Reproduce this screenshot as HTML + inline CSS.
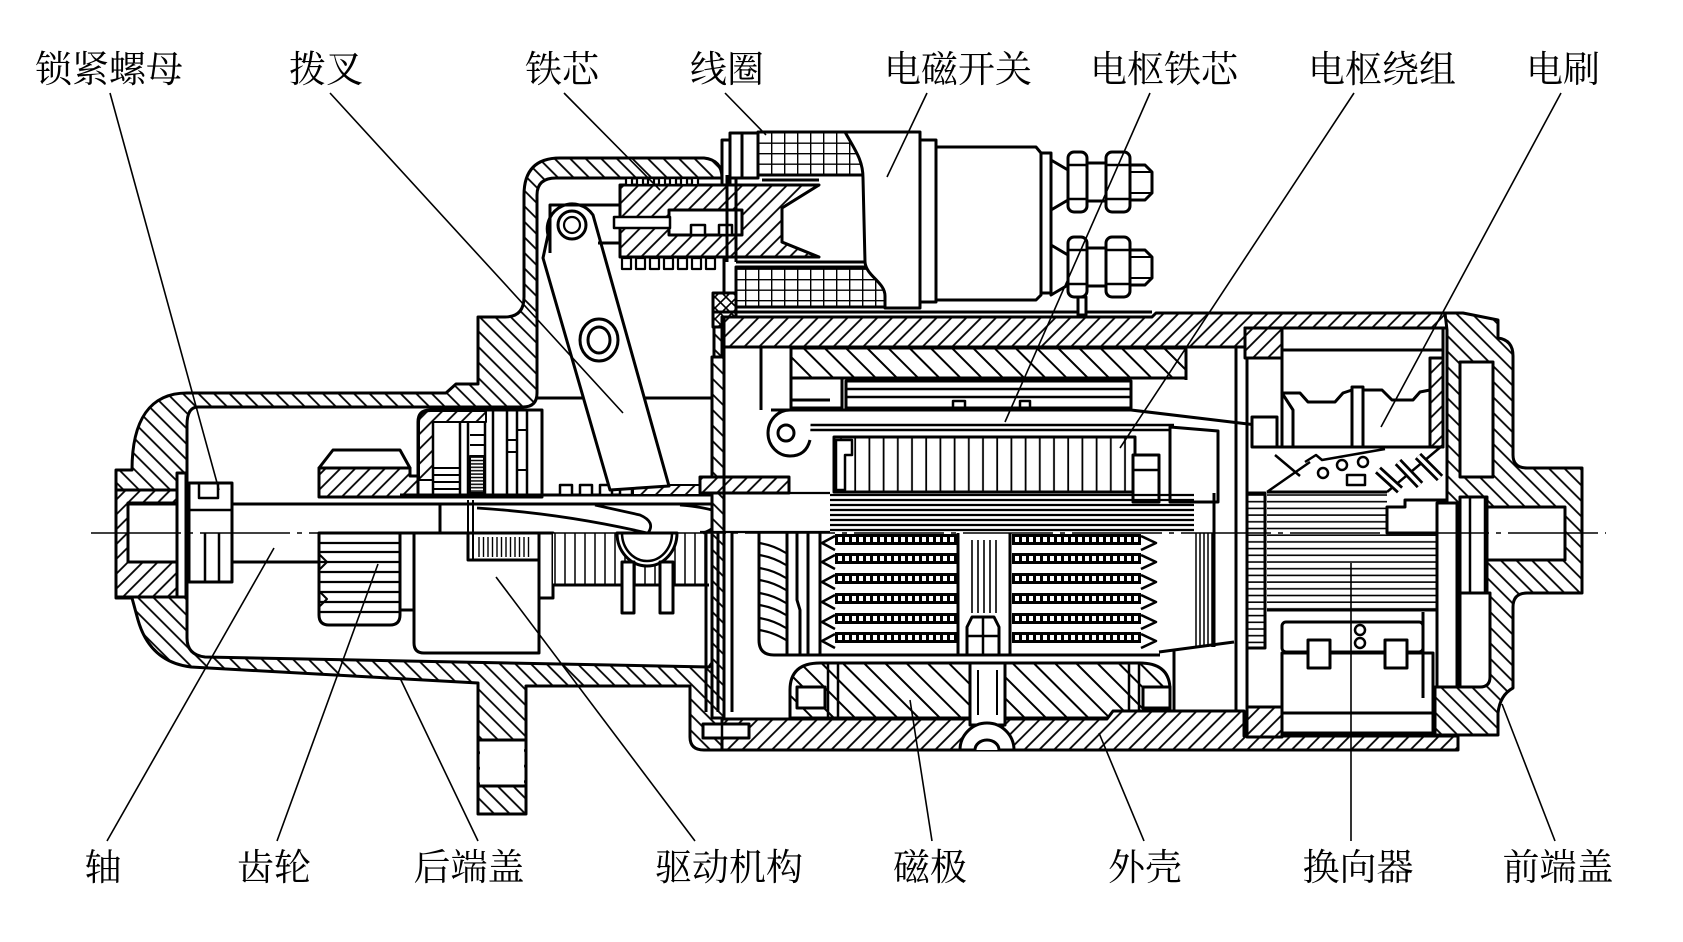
<!DOCTYPE html>
<html><head><meta charset="utf-8">
<style>
html,body{margin:0;padding:0;background:#fff;}
svg{display:block;}
text{font-family:"Liberation Serif","Noto Serif CJK SC","Noto Sans CJK SC",serif;font-size:37px;fill:#000;}
</style></head><body>
<svg width="1683" height="942" viewBox="0 0 1683 942" xmlns="http://www.w3.org/2000/svg">
<defs>
<pattern id="hA" patternUnits="userSpaceOnUse" width="10.5" height="10.5" patternTransform="rotate(45)"><rect width="10.5" height="10.5" fill="#fff"/><line x1="5" y1="-1" x2="5" y2="12" stroke="#000" stroke-width="1.8"/></pattern>
<pattern id="hB" patternUnits="userSpaceOnUse" width="11" height="11" patternTransform="rotate(-45)"><rect width="11" height="11" fill="#fff"/><line x1="5" y1="-1" x2="5" y2="12" stroke="#000" stroke-width="1.8"/></pattern>
<pattern id="hP" patternUnits="userSpaceOnUse" width="15" height="15" patternTransform="rotate(-45)"><rect width="15" height="15" fill="#fff"/><line x1="7" y1="-1" x2="7" y2="16" stroke="#000" stroke-width="2"/></pattern>
<pattern id="grid" patternUnits="userSpaceOnUse" x="758" y="132" width="13" height="10.5"><rect width="13" height="10.5" fill="#fff"/><path d="M0 0.5H13M0.5 0V10.5" stroke="#000" stroke-width="1.8" fill="none"/></pattern>
<pattern id="vl" patternUnits="userSpaceOnUse" width="10" height="10"><rect width="10" height="10" fill="#fff"/><line x1="5" y1="0" x2="5" y2="10" stroke="#000" stroke-width="1.5"/></pattern>
<pattern id="vA" patternUnits="userSpaceOnUse" x="834" width="14.2" height="10"><rect width="14.2" height="10" fill="#fff"/><line x1="7" y1="0" x2="7" y2="10" stroke="#000" stroke-width="1.8"/></pattern>
<pattern id="vs" patternUnits="userSpaceOnUse" width="4.5" height="10"><rect width="4.5" height="10" fill="#fff"/><line x1="2" y1="0" x2="2" y2="10" stroke="#000" stroke-width="1.4"/></pattern>
<pattern id="hl" patternUnits="userSpaceOnUse" width="10" height="6.7" y="492"><rect width="10" height="6.7" fill="#fff"/><line x1="0" y1="3" x2="10" y2="3" stroke="#000" stroke-width="1.6"/></pattern>
<pattern id="hd" patternUnits="userSpaceOnUse" width="10" height="3.4"><rect width="10" height="3.4" fill="#fff"/><line x1="0" y1="1.5" x2="10" y2="1.5" stroke="#000" stroke-width="1.5"/></pattern>
<pattern id="xh" patternUnits="userSpaceOnUse" width="11" height="11"><rect width="11" height="11" fill="#fff"/><path d="M0 0L11 11M11 0L0 11" stroke="#000" stroke-width="1.6"/></pattern>
</defs>

<g fill="none" stroke="#000" stroke-width="3" stroke-linejoin="round">

<!-- Rear end cap -->
<path fill="url(#hB)" d="M187,393 L446,393 L456,384 L478,384 L478,317 L505,317 Q524,317 524,297 L524,195 Q524,158 560,158 L704,158 Q722,160 722,178 L722,750 L704,750 Q690,750 690,737 L690,686 L526,686 L526,814 L478,814 L478,683 L191,667 Q150,662 138,620 L132,598 L116,598 L116,470 L132,470 C132,420 150,393 187,393 Z"/>
<path fill="#fff" d="M198,407 L523,407 Q537,407 537,393 L537,195 Q537,178 556,178 L724,178 L724,320 L714,320 L714,660 L709,667 L205,657 Q187,655 187,638 L187,425 Q187,407 198,407 Z"/>
<rect x="480" y="740" width="44" height="46" fill="#fff" stroke="none"/>
<path d="M478,740 H526 M478,786 H526"/>
<line x1="537" y1="398" x2="714" y2="398"/>

<!-- boss & nut -->
<rect x="116" y="490" width="61" height="107" fill="url(#hA)"/>
<rect x="128" y="503" width="49" height="59" fill="#fff"/>
<rect x="128" y="504" width="312" height="58" fill="#fff"/>
<rect x="177" y="473" width="9" height="124" fill="#fff"/>
<rect x="189" y="483" width="43" height="99" fill="#fff"/>
<path d="M199,483 V498 H218 V483 M189,510 H232 M205,533 V582 M219,533 V582" stroke-width="2.5"/>

<!-- pinion -->
<path fill="#fff" d="M319,468 L333,450 L400,450 L410,468 Z"/>
<path fill="url(#hA)" d="M319,468 L410,468 L410,476 L420,476 L432,462 L432,497 L319,497 Z"/>
<path fill="#fff" d="M319,533 L400,533 L400,615 Q400,625 390,625 L329,625 Q319,625 319,615 Z"/>
<path d="M319,543H400M319,552H400M319,562H400M319,572H400M319,582H400M319,592H400M319,602H400M319,612H400" stroke-width="2.2"/>
<path d="M320,555 L327,562 L320,569 M320,592 L327,599 L320,606" stroke-width="2"/>
<rect x="400" y="533" width="14" height="77" fill="#fff"/>
<path fill="#fff" d="M414,533 L539,533 L539,653 L424,653 Q414,653 414,643 Z"/>

<!-- drive upper (clutch) -->
<path fill="#fff" d="M418,497 L418,422 Q418,410 430,410 L542,410 L542,497 Z"/>
<path fill="url(#hA)" stroke-width="2" d="M419,480 L419,423 Q419,411 431,411 L486,411 L486,422 L433,422 L433,480 Z"/>
<rect x="470" y="456" width="14" height="37" fill="url(#hd)" stroke-width="2"/>
<path d="M433,422V497M460,422V497M468,422V497M485,422V497M493,411V497M507,411V497M517,411V497M527,411V497" stroke-width="2.5"/>
<path d="M433,468H460M433,475H460M433,482H460M433,489H460M470,435H485M470,445H485M507,440H517M507,452H517M517,430H527M517,470H527" stroke-width="2"/>

<!-- spline / sleeve -->
<rect x="468" y="533" width="71" height="27" fill="#fff"/>
<rect x="478" y="537" width="54" height="20" fill="url(#vs)" stroke="none"/>
<path d="M468,500 V560 M473,500 V560" stroke-width="2"/>
<rect x="539" y="533" width="14" height="65" fill="#fff"/>
<rect x="553" y="533" width="156" height="52" fill="url(#vl)" stroke="none"/>
<path d="M553,585 H709"/>
<path fill="#fff" d="M617,533 A30,33 0 0 0 677,533 Z"/>
<path d="M622,533 A25,28 0 0 0 672,533" stroke-width="2.5"/>
<rect x="622" y="562" width="12" height="51" fill="#fff"/>
<rect x="660" y="562" width="13" height="51" fill="#fff"/>
<path d="M400,495 H720 M432,504 H720"/>
<rect x="633" y="485" width="81" height="10" fill="url(#hA)" stroke-width="2"/>
<rect x="560" y="485" width="12" height="10" fill="#fff" stroke-width="2.5"/>
<rect x="580" y="485" width="12" height="10" fill="#fff" stroke-width="2.5"/>
<rect x="600" y="485" width="12" height="10" fill="#fff" stroke-width="2.5"/>
<rect x="620" y="485" width="12" height="10" fill="#fff" stroke-width="2.5"/>
<path d="M477,508 C540,512 600,522 647,533 M595,505 L640,515 Q656,522 648,533 M680,505 Q715,508 722,515 Q718,528 703,533" stroke-width="2.8"/>

<!-- shift fork lever -->
<path fill="#fff" d="M543,258 L610,490 L669,486 L593,215 A25,25 0 0 0 548,235 Z"/>
<circle cx="572" cy="225" r="14" fill="#fff"/>
<circle cx="572" cy="225" r="8" stroke-width="2.2"/>
<ellipse cx="599" cy="340" rx="19" ry="21" fill="#fff"/>
<ellipse cx="599" cy="340" rx="11" ry="13"/>
<path d="M550,253 V205 H620 M598,243 H620"/>

<!-- solenoid: plunger -->
<rect x="722" y="140" width="8" height="70" fill="#fff"/>
<rect x="758" y="132" width="110" height="43" fill="url(#grid)"/>
<rect x="736" y="267" width="150" height="40" fill="url(#grid)"/>
<rect x="713" y="293" width="23" height="34" fill="url(#xh)"/>
<path fill="url(#hA)" d="M620,185 L819,185 L782,208 L782,242 L819,257 L620,257 Z"/>
<path fill="#fff" d="M819,185 L782,208 L782,242 L819,257"/>
<rect x="669" y="210" width="73" height="25" fill="#fff"/>
<rect x="691" y="225" width="14" height="10" fill="#fff" stroke-width="2.5"/>
<rect x="719" y="225" width="13" height="10" fill="#fff" stroke-width="2.5"/>
<rect x="614" y="217" width="56" height="11" fill="#fff" stroke-width="2.5"/>
<g stroke-width="2.2" fill="#fff">
<rect x="626" y="178" width="6" height="7"/><rect x="637" y="178" width="6" height="7"/><rect x="648" y="178" width="6" height="7"/><rect x="659" y="178" width="6" height="7"/><rect x="670" y="178" width="6" height="7"/><rect x="681" y="178" width="6" height="7"/><rect x="692" y="178" width="6" height="7"/>
<rect x="622" y="258" width="9" height="11"/><rect x="636" y="258" width="9" height="11"/><rect x="650" y="258" width="9" height="11"/><rect x="664" y="258" width="9" height="11"/><rect x="678" y="258" width="9" height="11"/><rect x="692" y="258" width="9" height="11"/><rect x="706" y="258" width="9" height="11"/>
</g>
<path d="M727,175 V262 M736,175 V262 M736,262 H868 M736,267 H868 M758,175 H863 M762,180 H819"/>
<rect x="730" y="133" width="28" height="45" fill="#fff"/>
<line x1="742" y1="133" x2="742" y2="178"/>
<!-- solenoid cover / body -->
<path fill="#fff" d="M845,132 C855,150 863,160 863,178 L865,262 C866,276 885,282 885,296 L885,308 L920,308 L920,132 Z"/>
<rect x="920" y="140" width="16" height="162" fill="#fff"/>
<path fill="#fff" d="M936,147 L1036,147 L1041,153 L1041,295 L1036,300 L936,300 Z"/>
<rect x="1041" y="153" width="10" height="140" fill="#fff"/>
<path d="M713,312 H1152"/>
<g id="term">
<path fill="#fff" d="M1051,160 L1068,170 L1068,200 L1051,210 Z"/>
<rect x="1068" y="152" width="19" height="60" rx="6" fill="#fff"/>
<path d="M1068,165 H1087 M1068,199 H1087" stroke-width="2.5"/>
<rect x="1087" y="163" width="19" height="38" fill="#fff"/>
<rect x="1106" y="152" width="24" height="60" rx="6" fill="#fff"/>
<path d="M1106,165 H1130 M1106,199 H1130" stroke-width="2.5"/>
<path fill="#fff" d="M1130,165 L1145,165 L1152,172 L1152,193 L1145,200 L1130,200 Z"/>
<path d="M1130,172 H1152 M1130,193 H1152" stroke-width="2"/>
</g>
<use href="#term" transform="translate(0,85)"/>
<rect x="1078" y="297" width="8" height="18" fill="#fff"/>

<!-- housing top wall -->
<path fill="url(#hA)" d="M722,317 L1152,317 L1156,313 L1447,313 L1447,328 L1245,328 L1245,347 L722,347 Z"/>
<rect x="1245" y="328" width="37" height="30" fill="url(#hA)"/>
<rect x="712" y="357" width="12" height="361" fill="url(#hB)"/>
<rect x="700" y="477" width="89" height="16" fill="url(#hA)"/>
<path d="M724,317 V750 M761,347 V410 M706,533 V712 M718,533 V712 M732,533 V712"/>

<!-- upper pole and field coil -->
<rect x="791" y="348" width="395" height="30" fill="url(#hP)"/>
<rect x="791" y="378" width="51" height="30" fill="#fff"/>
<path d="M791,400 H830"/>
<rect x="846" y="381" width="285" height="27" fill="#fff"/>
<path d="M846,389 H1131 M846,397 H1131 M953,408 V401 H965 V408 M1020,408 V401 H1030 V408" stroke-width="2.5"/>
<path d="M1186,348 V380 M1236,347 V750 M1247,358 V707"/>

<!-- brush lead / band -->
<path d="M771,410 H1131 L1273,427"/>
<path d="M775,425 H1174 M775,430 H1174" stroke-width="2.5"/>
<path fill="#fff" d="M811,410 H790 A22,23 0 0 0 790,456 Q806,456 810,440"/>
<circle cx="786" cy="433" r="8"/>

<!-- armature upper -->
<rect x="834" y="437" width="301" height="55" fill="url(#vA)"/>
<path fill="#fff" d="M836,440 H852 V455 H845 V490 H836 Z" stroke-width="2.5"/>
<rect x="1133" y="455" width="26" height="47" fill="#fff"/>
<path d="M1133,470 H1159" stroke-width="2.5"/>
<path fill="#fff" d="M1170,427 L1218,431 L1218,502 L1170,502 Z"/>
<path d="M830,495H1194M830,500H1194M830,505H1194M830,510H1194M830,515H1194M830,520H1194M830,525H1194M830,530H1194M700,493H830M700,532H830" stroke-width="2.2"/>

<!-- armature lower -->
<g stroke="none" fill="#000">
<rect x="835" y="534" width="122" height="11"/><rect x="835" y="553" width="122" height="11"/><rect x="835" y="573" width="122" height="11"/><rect x="835" y="593" width="122" height="11"/><rect x="835" y="613" width="122" height="11"/><rect x="835" y="632" width="122" height="11"/>
<rect x="1012" y="534" width="129" height="11"/><rect x="1012" y="553" width="129" height="11"/><rect x="1012" y="573" width="129" height="11"/><rect x="1012" y="593" width="129" height="11"/><rect x="1012" y="613" width="129" height="11"/><rect x="1012" y="632" width="129" height="11"/>
</g>
<g stroke="#fff" stroke-width="5" stroke-dasharray="4 3">
<path d="M838,539.5H955M838,558.5H955M838,578.5H955M838,598.5H955M838,618.5H955M838,637.5H955"/>
<path d="M1015,539.5H1139M1015,558.5H1139M1015,578.5H1139M1015,598.5H1139M1015,618.5H1139M1015,637.5H1139"/>
</g>
<path d="M835,536 L822,543 L835,550 M835,555 L822,562 L835,569 M835,575 L822,582 L835,589 M835,595 L822,602 L835,609 M835,615 L822,622 L835,629 M835,634 L822,641 L835,648" stroke-width="2.5"/>
<path d="M1141,536 L1156,543 L1141,550 M1141,555 L1156,562 L1141,569 M1141,575 L1156,582 L1141,589 M1141,595 L1156,602 L1141,609 M1141,615 L1156,622 L1141,629 M1141,634 L1156,641 L1141,648" stroke-width="2.5"/>
<path d="M958,533 V655 M1010,533 V655 M787,533 V655 M797,533 V600 L800,610 V655 M808,533 V655 M820,533 V655"/>
<path d="M972,540V613M978,540V613M984,540V613M990,540V613M996,540V613" stroke-width="1.6"/>
<path fill="#fff" d="M967,655 V627 L972,617 H994 L999,627 V655"/>
<path d="M983,617 V655 M967,636 H999" stroke-width="2.5"/>
<path d="M759,533 V640 Q759,655 774,655 H1160"/>
<path d="M759,543 Q773,545 786,553 M759,555 Q773,557 786,565 M759,568 Q773,570 786,578 M759,580 Q773,582 786,590 M759,593 Q773,595 786,603 M759,605 Q773,607 786,615 M759,618 Q773,620 786,628 M759,630 Q773,632 786,640" stroke-width="2.2"/>
<path d="M1196,533V647M1200,533V647M1204,533V647M1208,533V647M1212,533V647" stroke-width="1.5"/>
<path d="M1214,493 V647 M1159,652 L1234,642 M1174,650 V712"/>

<!-- lower pole -->
<path fill="url(#hP)" d="M790,718 L790,690 Q790,663 820,663 L1140,663 Q1170,663 1170,690 L1170,718 Z"/>
<rect x="797" y="687" width="28" height="21" fill="#fff"/>
<rect x="1143" y="687" width="27" height="21" fill="#fff"/>
<path d="M828,663 V718 M838,663 V718 M1129,663 V718 M1139,663 V718" stroke-width="2.5"/>

<!-- housing bottom -->
<path fill="url(#hA)" d="M722,719 L1107,719 L1113,711 L1244,711 L1244,736 L1458,736 L1458,750 L722,750 Z"/>
<rect x="1247" y="707" width="35" height="30" fill="url(#hA)"/>
<rect x="703" y="724" width="46" height="14" fill="#fff"/>
<line x1="722" y1="724" x2="722" y2="738" stroke-width="2.5"/>
<rect x="970" y="663" width="35" height="62" fill="#fff"/>
<path d="M978,670 V715 M997,670 V715" stroke-width="2"/>
<path fill="#fff" d="M960,750 A27,27 0 0 1 1014,750 Z"/>
<path fill="#fff" d="M975,750 A12,10 0 0 1 999,750"/>

<!-- commutator -->
<rect x="1247" y="493" width="18" height="155" fill="url(#hl)"/>
<rect x="1267" y="492" width="120" height="41" fill="url(#hl)" stroke="none"/>
<rect x="1267" y="533" width="193" height="77" fill="url(#hl)" stroke="none"/>
<path d="M1267,610 H1460 M1267,492 H1387"/>
<path fill="#fff" d="M1387,533 V507 H1405 V500 H1452 V533 Z"/>

<!-- brush holders -->
<rect x="1282" y="328" width="161" height="119" fill="#fff"/>
<path d="M1282,350 H1443"/>
<path fill="#fff" d="M1282,393 H1300 L1308,402 H1335 L1343,393 L1352,390 V447 H1293 V410 Z"/>
<path fill="#fff" d="M1363,447 V390 H1382 L1392,400 H1413 L1420,392 L1430,390 V447 Z"/>
<rect x="1352" y="387" width="11" height="60" fill="#fff"/>
<rect x="1430" y="358" width="13" height="89" fill="url(#hA)"/>
<rect x="1252" y="417" width="25" height="30" fill="#fff"/>
<path d="M1265,447 H1443"/>
<path d="M1267,492 L1310,462 M1275,455 L1300,476 M1305,462 L1316,455 L1322,460 L1385,449 M1387,492 L1443,445" stroke-width="2.5"/>
<circle cx="1323" cy="473" r="5" stroke-width="2.5" fill="#fff"/>
<circle cx="1342" cy="465" r="5" stroke-width="2.5" fill="#fff"/>
<circle cx="1363" cy="462" r="5" stroke-width="2.5" fill="#fff"/>
<rect x="1347" y="475" width="18" height="10" fill="#fff" stroke-width="2.5"/>
<path d="M1378,470 L1400,490 M1398,462 L1420,485 M1418,456 L1440,478" stroke-width="9"/>
<path d="M1378,470 L1400,490 M1398,462 L1420,485 M1418,456 L1440,478" stroke="#fff" stroke-width="3.5"/>
<rect x="1282" y="622" width="141" height="30" rx="4" fill="#fff"/>
<rect x="1282" y="653" width="151" height="80" fill="#fff"/>
<path d="M1282,713 H1433 M1423,612 V698"/>
<rect x="1308" y="640" width="22" height="28" fill="#fff"/>
<rect x="1385" y="640" width="22" height="28" fill="#fff"/>
<circle cx="1360" cy="630" r="5" stroke-width="2.5" fill="#fff"/>
<circle cx="1360" cy="643" r="5" stroke-width="2.5" fill="#fff"/>

<!-- front end cap -->
<path fill="url(#hB)" d="M1445,313 L1463,313 L1498,320 L1498,338 Q1513,340 1513,356 L1513,455 Q1513,468 1527,468 L1582,468 L1582,593 L1527,593 Q1513,593 1513,607 L1513,688 Q1500,695 1498,713 L1498,735 L1435,735 L1435,687 L1447,687 L1447,330 Z"/>
<rect x="1460" y="362" width="33" height="115" fill="#fff"/>
<rect x="1487" y="507" width="78" height="53" fill="#fff"/>
<rect x="1460" y="497" width="27" height="96" fill="#fff"/>
<path d="M1470,497 V593 M1485,497 V593" stroke-width="2.5"/>
<path fill="#fff" d="M1460,593 L1490,593 L1490,677 Q1490,687 1480,687 L1460,687 Z"/>
<rect x="1437" y="503" width="23" height="184" fill="#fff"/>
<path d="M1457,503 V687"/>
</g>

<!-- centerline -->
<path d="M91,533 H1606" stroke="#000" stroke-width="1.6" stroke-dasharray="90 7 5 7" fill="none"/>

<!-- leader lines -->
<g stroke="#000" stroke-width="1.6" fill="none">
<path d="M110,93 L219,490"/>
<path d="M330,93 L623,413"/>
<path d="M564,93 L660,190"/>
<path d="M725,93 L766,135"/>
<path d="M927,93 L887,177"/>
<path d="M1150,93 L1005,422"/>
<path d="M1354,93 L1120,448"/>
<path d="M1561,93 L1381,427"/>
<path d="M107,841 L274,548"/>
<path d="M277,841 L378,564"/>
<path d="M478,841 L400,678"/>
<path d="M695,841 L496,577"/>
<path d="M932,841 L910,700"/>
<path d="M1144,841 L1099,733"/>
<path d="M1351,841 L1351,563"/>
<path d="M1555,841 L1502,704"/>
</g>

<!-- labels -->
<g text-anchor="middle">
<text x="109" y="82">锁紧螺母</text>
<text x="326" y="82">拨叉</text>
<text x="562" y="82">铁芯</text>
<text x="727" y="82">线圈</text>
<text x="958" y="82">电磁开关</text>
<text x="1164" y="82">电枢铁芯</text>
<text x="1382" y="82">电枢绕组</text>
<text x="1563" y="82">电刷</text>
<text x="103" y="880">轴</text>
<text x="274" y="880">齿轮</text>
<text x="469" y="880">后端盖</text>
<text x="729" y="880">驱动机构</text>
<text x="930" y="880">磁极</text>
<text x="1145" y="880">外壳</text>
<text x="1358" y="880">换向器</text>
<text x="1558" y="880">前端盖</text>
</g>
</svg>
</body></html>
